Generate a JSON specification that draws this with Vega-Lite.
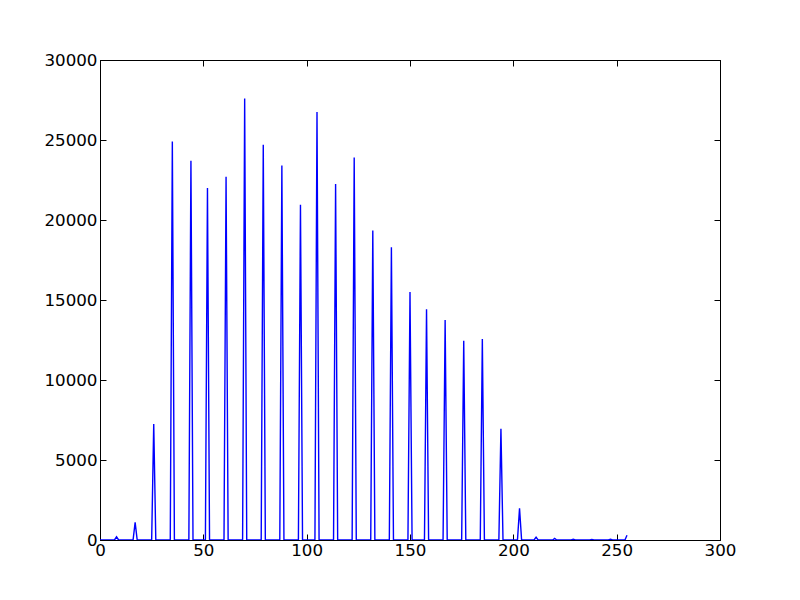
{
  "$schema": "https://vega.github.io/schema/vega-lite/v6.json",
  "width": 620,
  "height": 480,
  "autosize": {"type": "none"},
  "padding": {"left": 100, "top": 60, "right": 80, "bottom": 60},
  "background": "white",
  "view": {"stroke": "black", "strokeWidth": 1},
  "config": {
    "font": "DejaVu Sans",
    "axis": {
      "domainColor": "black", "domainWidth": 1,
      "tickColor": "black", "tickWidth": 1, "tickSize": -6,
      "labelFont": "DejaVu Sans", "labelFontSize": 16.7, "labelColor": "black",
      "grid": false, "title": null, "labelPadding": 8, "labelFlush": false, "labelOverlap": false
    }
  },
  "data": {"values": [
    {"x": 0, "y": 0},
    {"x": 7, "y": 0}, {"x": 8, "y": 200}, {"x": 9, "y": 0},
    {"x": 16, "y": 0}, {"x": 17, "y": 1100}, {"x": 18, "y": 0},
    {"x": 25, "y": 0}, {"x": 26, "y": 7250}, {"x": 27, "y": 0},
    {"x": 34, "y": 0}, {"x": 35, "y": 24900}, {"x": 36, "y": 0},
    {"x": 43, "y": 0}, {"x": 44, "y": 23700}, {"x": 45, "y": 0},
    {"x": 51, "y": 0}, {"x": 52, "y": 22000}, {"x": 53, "y": 0},
    {"x": 60, "y": 0}, {"x": 61, "y": 22700}, {"x": 62, "y": 0},
    {"x": 69, "y": 0}, {"x": 70, "y": 27600}, {"x": 71, "y": 0},
    {"x": 78, "y": 0}, {"x": 79, "y": 24700}, {"x": 80, "y": 0},
    {"x": 87, "y": 0}, {"x": 88, "y": 23400}, {"x": 89, "y": 0},
    {"x": 96, "y": 0}, {"x": 97, "y": 20950}, {"x": 98, "y": 0},
    {"x": 104, "y": 0}, {"x": 105, "y": 26750}, {"x": 106, "y": 0},
    {"x": 113, "y": 0}, {"x": 114, "y": 22250}, {"x": 115, "y": 0},
    {"x": 122, "y": 0}, {"x": 123, "y": 23900}, {"x": 124, "y": 0},
    {"x": 131, "y": 0}, {"x": 132, "y": 19350}, {"x": 133, "y": 0},
    {"x": 140, "y": 0}, {"x": 141, "y": 18300}, {"x": 142, "y": 0},
    {"x": 149, "y": 0}, {"x": 150, "y": 15500}, {"x": 151, "y": 0},
    {"x": 157, "y": 0}, {"x": 158, "y": 14420}, {"x": 159, "y": 0},
    {"x": 166, "y": 0}, {"x": 167, "y": 13750}, {"x": 168, "y": 0},
    {"x": 175, "y": 0}, {"x": 176, "y": 12460}, {"x": 177, "y": 0},
    {"x": 184, "y": 0}, {"x": 185, "y": 12560}, {"x": 186, "y": 0},
    {"x": 193, "y": 0}, {"x": 194, "y": 6950}, {"x": 195, "y": 0},
    {"x": 202, "y": 0}, {"x": 203, "y": 1980}, {"x": 204, "y": 0},
    {"x": 210, "y": 0}, {"x": 211, "y": 170}, {"x": 212, "y": 0},
    {"x": 219, "y": 0}, {"x": 220, "y": 100}, {"x": 221, "y": 0},
    {"x": 228, "y": 0}, {"x": 229, "y": 50}, {"x": 230, "y": 0},
    {"x": 237, "y": 0}, {"x": 238, "y": 40}, {"x": 239, "y": 0},
    {"x": 246, "y": 0}, {"x": 247, "y": 50}, {"x": 248, "y": 0},
    {"x": 254, "y": 0}, {"x": 255, "y": 300}
  ]},
  "layer": [
    {
      "mark": {"type": "line", "opacity": 0, "strokeWidth": 0, "color": "white"},
      "encoding": {
        "x": {"field": "x", "type": "quantitative",
              "scale": {"domain": [0, 300], "nice": false, "zero": false},
              "axis": {"orient": "top", "labels": false, "values": [0, 50, 100, 150, 200, 250, 300]}},
        "y": {"field": "y", "type": "quantitative",
              "scale": {"domain": [0, 30000], "nice": false},
              "axis": {"orient": "right", "labels": false, "values": [0, 5000, 10000, 15000, 20000, 25000, 30000]}}
      }
    },
    {
      "mark": {"type": "line", "color": "#0000ff", "strokeWidth": 1.4, "clip": true},
      "encoding": {
        "x": {"field": "x", "type": "quantitative",
              "scale": {"domain": [0, 300], "nice": false, "zero": false},
              "axis": {"orient": "bottom", "values": [0, 50, 100, 150, 200, 250, 300]}},
        "y": {"field": "y", "type": "quantitative",
              "scale": {"domain": [0, 30000], "nice": false},
              "axis": {"orient": "left", "format": "d", "labelPadding": 9, "values": [0, 5000, 10000, 15000, 20000, 25000, 30000]}}
      }
    }
  ],
  "resolve": {"axis": {"x": "independent", "y": "independent"}}
}
